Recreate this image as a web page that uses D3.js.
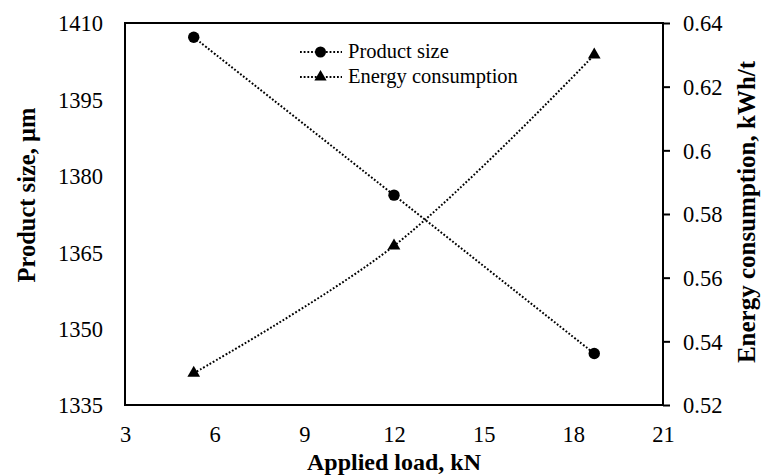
<!DOCTYPE html>
<html><head><meta charset="utf-8">
<script src="https://cdn.jsdelivr.net/npm/d3@7"></script>
<style>
html,body{margin:0;padding:0;background:#fff;}
svg text{font-family:"Liberation Serif","Times New Roman",serif;fill:#000;}
</style></head>
<body><svg id="c" width="762" height="476"></svg>
<script>
const loads = [5.3, 12, 18.7];
const productSize = [1407.2, 1376.2, 1345.1];
const energy = [0.53, 0.57, 0.63];
const xTicks = [3, 6, 9, 12, 15, 18, 21];
const yLeftTicks = [1335, 1350, 1365, 1380, 1395, 1410];
const yRightTicks = [0.52, 0.54, 0.56, 0.58, 0.6, 0.62, 0.64];
const seriesNames = ["Product size", "Energy consumption"];

const svg = d3.select("#c");
const m = {l:125, r:99, t:23, b:71};
const W = 762, H = 476;
const x = d3.scaleLinear().domain([3,21]).range([m.l, W-m.r]);
const yL = d3.scaleLinear().domain([1335,1410]).range([H-m.b, m.t]);
const yR = d3.scaleLinear().domain([0.52,0.64]).range([H-m.b, m.t]);

const tickFont = "22.5px";
// left axis (labels only)
const gL = svg.append("g").attr("transform",`translate(${m.l},0)`)
  .call(d3.axisLeft(yL).tickValues(yLeftTicks).tickSize(0).tickPadding(22).tickFormat(d3.format("d")));
gL.select(".domain").remove();
gL.selectAll("text").style("font-size",tickFont).attr("dy","0.35em");
// bottom axis (labels only)
const gB = svg.append("g").attr("transform",`translate(0,${H-m.b})`)
  .call(d3.axisBottom(x).tickValues(xTicks).tickSize(0).tickPadding(21).tickFormat(d3.format("d")));
gB.select(".domain").remove();
gB.selectAll("text").style("font-size",tickFont);
// right axis
const gR = svg.append("g").attr("transform",`translate(${W-m.r},0)`)
  .call(d3.axisRight(yR).tickValues(yRightTicks).tickSize(7).tickPadding(13).tickFormat(d => d3.format("")(+d.toFixed(2))));
gR.select(".domain").remove();
gR.selectAll("line").attr("stroke","#000").attr("stroke-width",2);
gR.selectAll("text").style("font-size",tickFont).attr("dy","0.35em");

// frame
svg.append("rect").attr("x",m.l).attr("y",m.t).attr("width",W-m.l-m.r).attr("height",H-m.t-m.b)
  .attr("fill","none").attr("stroke","#000").attr("stroke-width",2);

// lines
const curve = d3.curveCatmullRom.alpha(0.5);
const line1 = d3.line().x((d,i)=>x(loads[i])).y(d=>yL(d)).curve(curve);
const line2 = d3.line().x((d,i)=>x(loads[i])).y(d=>yR(d)).curve(curve);
const dash = "1.8,1.9";
svg.append("path").attr("d",line1(productSize)).attr("fill","none").attr("stroke","#000")
  .attr("stroke-width",2).attr("stroke-dasharray",dash);
svg.append("path").attr("d",line2(energy)).attr("fill","none").attr("stroke","#000")
  .attr("stroke-width",2).attr("stroke-dasharray",dash);

const tri = d3.symbol().type(d3.symbolTriangle).size(70);
svg.selectAll("circle.p").data(productSize).enter().append("circle")
  .attr("cx",(d,i)=>x(loads[i])).attr("cy",d=>yL(d)).attr("r",5.7).attr("fill","#000");
svg.selectAll("path.e").data(energy).enter().append("path").attr("class","e")
  .attr("d",tri).attr("transform",(d,i)=>`translate(${x(loads[i])},${yR(d)})`).attr("fill","#000");

// legend
const lg = svg.append("g");
const legY = [52, 77];
seriesNames.forEach((n,i)=>{
  lg.append("line").attr("x1",300).attr("x2",342).attr("y1",legY[i]).attr("y2",legY[i])
    .attr("stroke","#000").attr("stroke-width",2).attr("stroke-dasharray",dash);
  if(i===0) lg.append("circle").attr("cx",320.5).attr("cy",legY[i]).attr("r",5.5).attr("fill","#000");
  else lg.append("path").attr("d",d3.symbol().type(d3.symbolTriangle).size(65)).attr("transform",`translate(320.5,${legY[i]})`).attr("fill","#000");
  lg.append("text").attr("x",348).attr("y",legY[i]+5.5).style("font-size","20.5px").text(n);
});

// axis titles
svg.append("text").attr("x",(m.l+W-m.r)/2).attr("y",470).attr("text-anchor","middle")
  .style("font-size","24px").style("font-weight","bold").text("Applied load, kN");
svg.append("text").attr("transform",`translate(35,195) rotate(-90)`).attr("text-anchor","middle")
  .style("font-size","24.5px").style("font-weight","bold").text("Product size, µm");
svg.append("text").attr("transform",`translate(755,212) rotate(-90)`).attr("text-anchor","middle")
  .style("font-size","25px").style("font-weight","bold").text("Energy consumption, kWh/t");
</script></body></html>
